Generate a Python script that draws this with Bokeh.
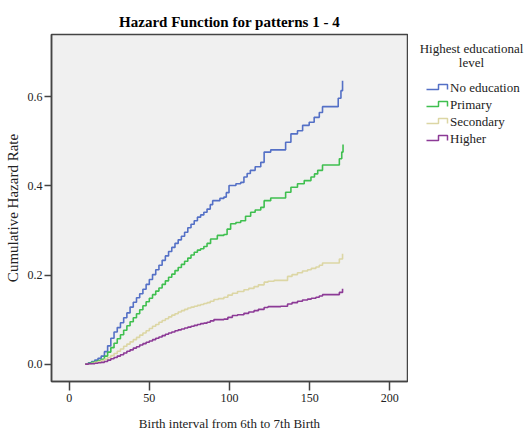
from bokeh.plotting import figure
from bokeh.models import Range1d, CustomJSTickFormatter
from bokeh.layouts import row
from bokeh.core.properties import value
from bokeh.embed import file_html
from bokeh.resources import INLINE

# Cumulative hazard step functions
x_none = [10, 12, 14, 16, 18, 20, 22, 24, 26, 28, 30, 32, 34, 36, 38, 40, 42, 44, 46, 48, 50, 52, 54, 56, 58, 60,
          62, 64, 66, 68, 70, 72, 74, 76, 78, 80, 82, 84, 86, 88, 89.5, 94, 96.5, 98, 99.7, 104, 107, 109, 111, 113,
          116, 119.5, 121.6, 125.7, 135, 138.3, 142.4, 145.6, 149.7, 152.8, 156, 158, 167.8, 169.5, 170.5]
y_none = [0.0, 0.003, 0.006, 0.009, 0.013, 0.018, 0.028, 0.041, 0.058, 0.072, 0.082, 0.093, 0.104, 0.115, 0.128,
          0.139, 0.149, 0.158, 0.168, 0.179, 0.19, 0.201, 0.212, 0.222, 0.233, 0.243, 0.253, 0.262, 0.271, 0.279,
          0.287, 0.296, 0.306, 0.314, 0.322, 0.33, 0.335, 0.341, 0.348, 0.358, 0.367, 0.372, 0.375, 0.385, 0.401,
          0.405, 0.408, 0.42, 0.428, 0.435, 0.443, 0.453, 0.476, 0.481, 0.498, 0.517, 0.524, 0.536, 0.543, 0.554,
          0.565, 0.578, 0.597, 0.614, 0.636]

x_prim = [10, 12, 14, 16, 18, 20, 22, 24, 26, 28, 30, 32, 34, 36, 38, 40, 42, 44, 46, 48, 50, 52, 54, 56, 58, 60,
          62, 64, 66, 68, 70, 72, 74, 76, 78, 80, 82, 84, 86, 88.2, 92.4, 96.5, 98.5, 100.7, 104, 107, 110, 113.2,
          116, 119.5, 121.6, 125.7, 135, 138.3, 142.4, 146.6, 150.8, 153, 155, 158, 168.5, 170, 170.8]
y_prim = [0.0, 0.002, 0.004, 0.006, 0.008, 0.011, 0.018, 0.027, 0.037, 0.047, 0.057, 0.066, 0.076, 0.086, 0.095,
          0.104, 0.113, 0.122, 0.131, 0.14, 0.148, 0.156, 0.164, 0.171, 0.179, 0.187, 0.195, 0.202, 0.21, 0.217,
          0.224, 0.231, 0.238, 0.245, 0.251, 0.256, 0.259, 0.264, 0.271, 0.281, 0.289, 0.291, 0.303, 0.315, 0.318,
          0.322, 0.332, 0.341, 0.346, 0.352, 0.367, 0.373, 0.386, 0.397, 0.405, 0.412, 0.42, 0.427, 0.435, 0.447,
          0.461, 0.476, 0.493]

x_sec = [10, 12, 14, 16, 18, 20, 22, 24, 26, 28, 30, 32, 34, 36, 38, 40, 42, 44, 46, 48, 50, 52, 54, 56, 58, 60,
         62, 64, 66, 68, 70, 72, 74, 76, 78, 80, 82, 84, 86, 88, 90.3, 93, 96.5, 99, 101.8, 105, 109, 112, 115.3,
         118, 121.6, 124, 127.8, 136.2, 139, 142.4, 145.5, 148.7, 151, 153.9, 156, 158, 168.5, 170.5]
y_sec = [0.0, 0.001, 0.002, 0.004, 0.006, 0.008, 0.011, 0.015, 0.019, 0.024, 0.029, 0.034, 0.04, 0.045, 0.05,
         0.055, 0.06, 0.065, 0.07, 0.075, 0.08, 0.085, 0.089, 0.094, 0.098, 0.102, 0.106, 0.11, 0.113, 0.117, 0.12,
         0.123, 0.126, 0.128, 0.13, 0.132, 0.134, 0.136, 0.138, 0.141, 0.145, 0.147, 0.15, 0.155, 0.159, 0.163,
         0.167, 0.17, 0.174, 0.178, 0.184, 0.186, 0.188, 0.197, 0.201, 0.205, 0.209, 0.212, 0.215, 0.218, 0.222,
         0.227, 0.236, 0.248]

x_high = [10, 12, 14, 16, 18, 20, 22, 24, 26, 28, 30, 32, 34, 36, 38, 40, 42, 44, 46, 48, 50, 52, 54, 56, 58, 60,
          62, 64, 66, 68, 70, 72, 74, 76, 78, 80, 82, 84, 86, 88, 90.3, 96.5, 99, 101.8, 105, 109, 112, 115.3, 118,
          121.6, 124, 131.9, 136.2, 139, 142.4, 145.5, 148.7, 151, 153.9, 156, 158, 168.5, 170.5]
y_high = [0.0, 0.001, 0.001, 0.002, 0.003, 0.004, 0.006, 0.009, 0.012, 0.015, 0.018, 0.021, 0.025, 0.029, 0.032,
          0.036, 0.039, 0.043, 0.046, 0.049, 0.052, 0.055, 0.058, 0.061, 0.064, 0.067, 0.07, 0.072, 0.075, 0.077,
          0.079, 0.081, 0.083, 0.085, 0.087, 0.089, 0.091, 0.092, 0.094, 0.097, 0.1, 0.101, 0.105, 0.109, 0.111,
          0.114, 0.117, 0.12, 0.123, 0.127, 0.129, 0.13, 0.135, 0.138, 0.141, 0.144, 0.146, 0.148, 0.15, 0.153,
          0.156, 0.161, 0.169]

series_labels = ["No education", "Primary", "Secondary", "Higher"]
series_colors = ["#5470c6", "#3fbf4f", "#dcd6a4", "#8c3a96"]
legend_title_lines = ["Highest educational", "level"]
x_ticks = [0, 50, 100, 150, 200]
y_ticks = [0.0, 0.2, 0.4, 0.6]

FONT = "Liberation Serif"
H = 436
W_MAIN = 408
W_LEG = 117
FRAME_TOP = 34
FRAME_BOTTOM = 55

p = figure(width=W_MAIN, height=H, output_backend="svg", toolbar_location=None,
           x_range=Range1d(-11, 211), y_range=Range1d(-0.039, 0.74),
           min_border_left=51, min_border_right=1, min_border_top=FRAME_TOP, min_border_bottom=FRAME_BOTTOM,
           title="Hazard Function for patterns 1 - 4")

p.border_fill_color = "white"
p.background_fill_color = "#f0f0f0"
p.outline_line_color = "#444444"
p.outline_line_width = 1.5
p.grid.visible = False

p.title.align = "center"
p.title.text_font = FONT
p.title.text_font_size = "15px"
p.title.text_font_style = "bold"
p.title.text_color = "black"
p.title.standoff = 9

for ax in (p.xaxis, p.yaxis):
    ax.axis_line_color = "#444444"
    ax.axis_line_width = 1.5
    ax.major_tick_line_color = "#444444"
    ax.major_tick_line_width = 1.5
    ax.major_tick_in = 0
    ax.minor_tick_line_color = None
    ax.major_label_text_font = FONT
    ax.major_label_text_font_size = "12px"
    ax.major_label_text_color = "#222222"
    ax.axis_label_text_font = FONT
    ax.axis_label_text_font_style = "normal"
    ax.axis_label_text_color = "#222222"

p.xaxis.ticker = x_ticks
p.yaxis.ticker = y_ticks
p.xaxis.major_tick_out = 9
p.yaxis.major_tick_out = 7
p.xaxis.major_label_standoff = 3
p.yaxis.major_label_standoff = 2
p.xaxis.axis_label = "Birth interval from 6th to 7th Birth"
p.yaxis.axis_label = "Cumulative Hazard Rate"
p.xaxis.axis_label_text_font_size = "13px"
p.yaxis.axis_label_text_font_size = "15px"
p.xaxis.axis_label_standoff = 11
p.yaxis.axis_label_standoff = 4
p.yaxis.formatter = CustomJSTickFormatter(code="return tick.toFixed(1);")

data = [(x_none, y_none), (x_prim, y_prim), (x_sec, y_sec), (x_high, y_high)]
for (xs, ys), col in zip(data, series_colors):
    p.step(xs, ys, mode="after", line_color=col, line_width=1.6)

# Legend panel: its frame is aligned with the main frame by the row layout,
# so its ranges are given in page pixels (x: left->right, y: top->bottom).
lf = figure(width=W_LEG, height=H, output_backend="svg", toolbar_location=None,
            x_range=Range1d(W_MAIN, W_MAIN + W_LEG), y_range=Range1d(H - FRAME_BOTTOM, FRAME_TOP),
            min_border_left=0, min_border_right=0, min_border_top=FRAME_TOP, min_border_bottom=FRAME_BOTTOM)
lf.axis.visible = False
lf.grid.visible = False
lf.outline_line_color = None
lf.background_fill_color = "white"
lf.border_fill_color = "white"

lf.text(x=[471, 471], y=[48, 62], text=legend_title_lines, text_font=value(FONT), text_font_size="13px",
        text_align="center", text_baseline="middle", text_color="#222222")

row_y = [86.5 + 17 * i for i in range(len(series_labels))]
icon_xs = [[426, 438, 438, 447, 447] for _ in row_y]
icon_ys = [[yc + 2.5, yc + 2.5, yc - 2.5, yc - 2.5, yc + 2.5] for yc in row_y]
lf.multi_line(xs=icon_xs, ys=icon_ys, line_color=series_colors, line_width=1.5)
lf.text(x=[449.5] * len(row_y), y=row_y, text=series_labels, text_font=value(FONT), text_font_size="13px",
        text_align="left", text_baseline="middle", text_color="#222222")

layout = row(p, lf, spacing=0)
open("out.html", "w").write(file_html(layout, INLINE))
